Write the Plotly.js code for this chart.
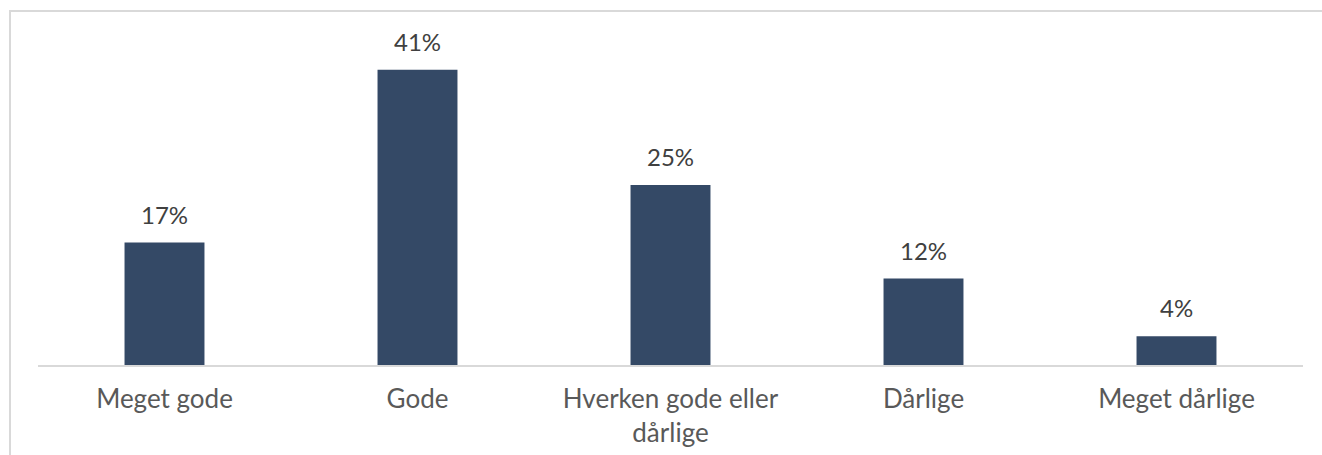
<!DOCTYPE html>
<html>
<head>
<meta charset="utf-8">
<script src="https://cdn.plot.ly/plotly-3.0.1.min.js"></script>
<style>
html,body{margin:0;padding:0;background:#fff;}
#chart{width:1322px;height:455px;}
</style>
</head>
<body>
<div id="chart"></div>
<script>
const categories = ["Meget gode", "Gode", "Hverken gode eller<br>dårlige", "Dårlige", "Meget dårlige"];
const values = [0.17, 0.41, 0.25, 0.12, 0.04];
const labels = ["17%", "41%", "25%", "12%", "4%"];

const W = 1322, H = 455;
const trace = {
  type: "bar",
  x: categories,
  y: values,
  marker: {color: "#344966"},
  hoverinfo: "none",
  cliponaxis: false
};

const annotations = categories.map((c, i) => ({
  x: c, y: values[i], text: labels[i], showarrow: false,
  xref: "x", yref: "y", yanchor: "bottom", yshift: 12,
  font: {family: "Lato, 'Open Sans', sans-serif", size: 24, color: "#404040"}
}));

const layout = {
  width: W, height: H,
  margin: {l: 38, r: 19, t: 41, b: 90},
  paper_bgcolor: "#ffffff",
  plot_bgcolor: "#ffffff",
  bargap: 0.684,
  showlegend: false,
  xaxis: {
    type: "category",
    showline: true, linecolor: "#d9d9d9", linewidth: 2,
    showgrid: false, zeroline: false,
    ticks: "", ticklabelstandoff: 10,
    tickfont: {family: "Lato, 'Open Sans', sans-serif", size: 26, color: "#595959"},
    fixedrange: true
  },
  yaxis: {
    range: [0, 0.45],
    visible: false, showgrid: false, zeroline: false, fixedrange: true
  },
  annotations: annotations,
  shapes: [
    {type: "line", xref: "paper", yref: "paper",
     x0: (9 - 38) / (W - 38 - 19), x1: (W + 5 - 38) / (W - 38 - 19),
     y0: (H - 90 - 11) / (H - 41 - 90), y1: (H - 90 - 11) / (H - 41 - 90),
     line: {color: "#d9d9d9", width: 2}},
    {type: "line", xref: "paper", yref: "paper",
     x0: (10 - 38) / (W - 38 - 19), x1: (10 - 38) / (W - 38 - 19),
     y0: (H - 90 - 11) / (H - 41 - 90), y1: (-10 - 90) / (H - 41 - 90),
     line: {color: "#d9d9d9", width: 2}}
  ]
};

Plotly.newPlot("chart", [trace], layout, {displayModeBar: false, staticPlot: true});
</script>
</body>
</html>
